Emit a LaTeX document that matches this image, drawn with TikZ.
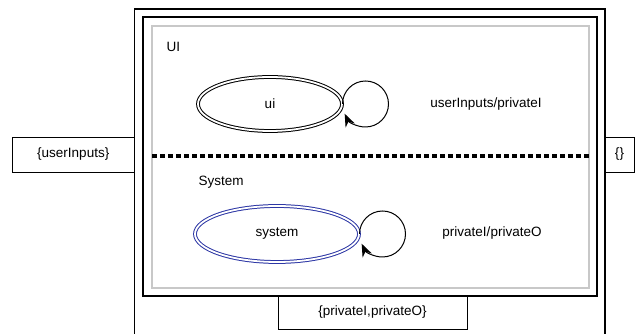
\documentclass[tikz,border=0pt]{standalone}
\usepackage{fontspec}
\setmainfont{Liberation Sans}
\usepackage{xcolor}
\usetikzlibrary{arrows.meta, positioning, shapes.geometric, calc}
\definecolor{sysblue}{RGB}{45,55,165}
\definecolor{framegray}{RGB}{200,200,200}

\begin{document}
\begin{tikzpicture}[x=1pt, y=1pt,
  every node/.style={font=\fontsize{13.5}{16}\selectfont},
  state/.style={ellipse, draw=#1, double, double distance=1.8pt, line width=1pt, inner sep=0pt},
  iobox/.style={draw, line width=0.9pt, minimum height=35pt, inner sep=0pt},
  selfloop/.style={line width=1pt, -{Stealth[length=13pt, width=10pt]}}]
  \useasboundingbox (0,0) rectangle (635,334);

  % Frames
  \draw[line width=1.5pt] (134.5,0) -- (134.5,325) -- (605,325) -- (605,0);
  \draw[line width=1.6pt] (143,38) rectangle (597,317);
  \draw[framegray, line width=1.6pt] (152,46) rectangle (589,308);

  % Separator
  \draw[line width=3.2pt, dash pattern=on 5pt off 3pt] (152,178) -- (589,178);

  % UI part
  \node[anchor=west] (uilabel) at (163,287) {UI};
  \node[state=black, minimum width=144pt, minimum height=54pt] (ui) at (270,230) {ui};
  \draw[selfloop] (ui.east) arc[start angle=180, end angle=-155, radius=23pt];
  \node (uitrans) at (486,230) {userInputs/privateI};

  % System part
  \node[anchor=west] (syslabel) at (195,152) {System};
  \node[state=sysblue, minimum width=164pt, minimum height=56pt] (system) at (277,100) {system};
  \draw[selfloop] (system.east) arc[start angle=180, end angle=-155, radius=23pt];
  \node (systrans) at (492,101) {privateI/privateO};

  % Interface boxes
  \node[iobox, minimum width=122.5pt] (inputs) at (73.25,179.5) {\{userInputs\}};
  \node[iobox, minimum width=29pt] (outputs) at (619.5,179.5) {\{\}};
  \node[iobox, minimum width=189pt, minimum height=33pt] (locals) at (372.5,21.5) {\{privateI,privateO\}};
\end{tikzpicture}
\end{document}
